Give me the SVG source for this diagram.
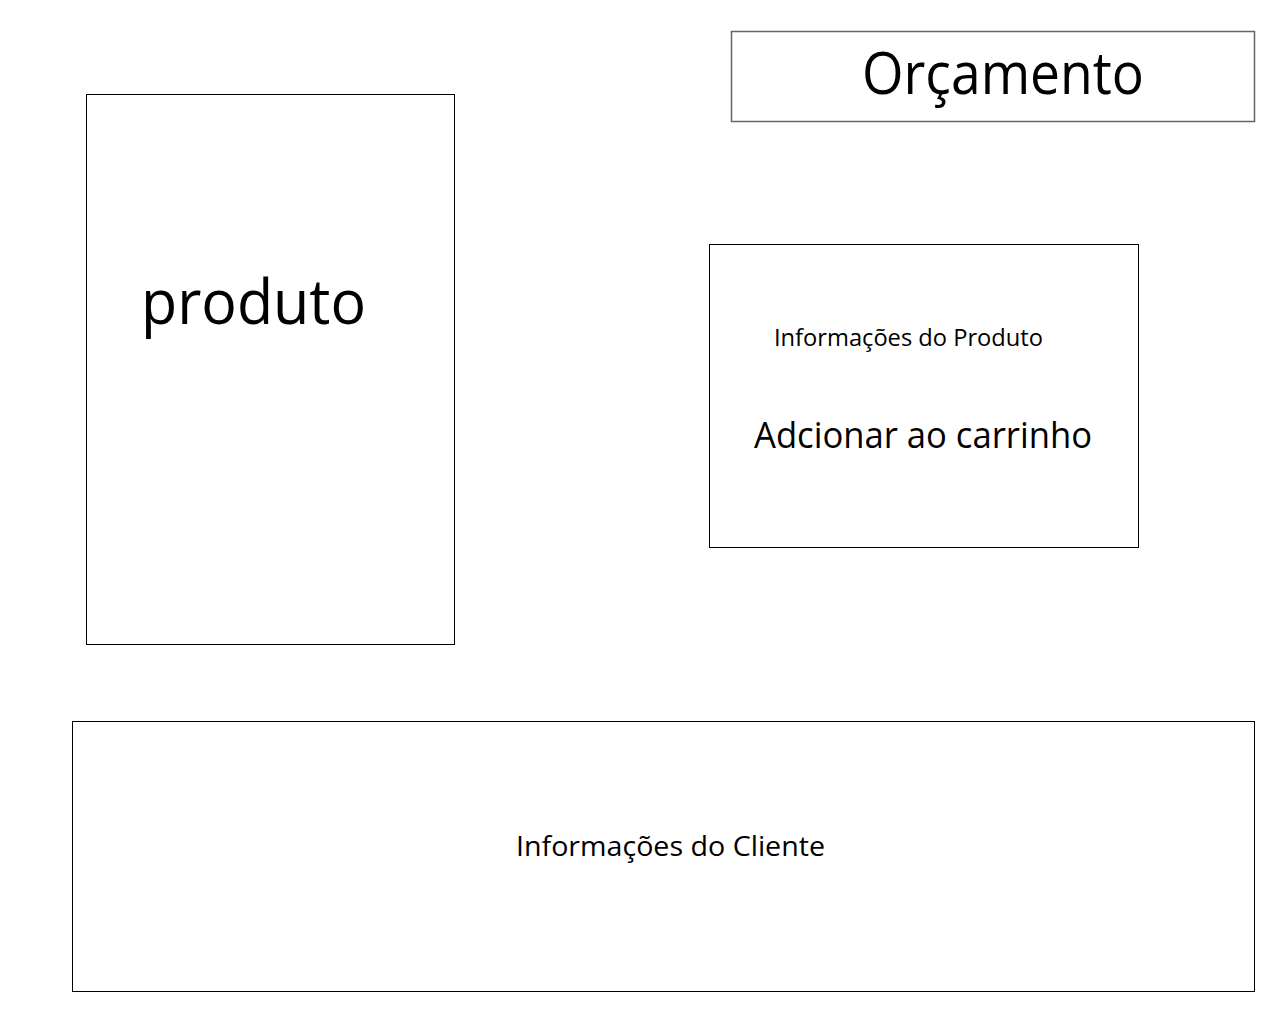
<svg xmlns="http://www.w3.org/2000/svg" width="1280" height="1024" viewBox="0 0 1280 1024">
<style>
rect{fill:#fff;stroke:#000;stroke-width:1}
text{font-family:"Open Sans","Noto Sans",sans-serif;fill:#000}
</style>
<rect x="0" y="0" width="1280" height="1024" style="stroke:none"/>
<g id="orcamento">
<rect x="731.5" y="31.5" width="523" height="90" style="stroke:#666;stroke-width:1.5"/>
<text x="862" y="94" font-size="58" textLength="282" lengthAdjust="spacingAndGlyphs">Orçamento</text>
</g>
<g id="produto">
<rect x="86.5" y="94.5" width="368" height="550"/>
<text x="141" y="324" font-size="62" textLength="225" lengthAdjust="spacingAndGlyphs">produto</text>
</g>
<g id="info-produto">
<rect x="709.5" y="244.5" width="429" height="303"/>
<text x="774" y="346" font-size="24" textLength="269" lengthAdjust="spacingAndGlyphs">Informações do Produto</text>
<text x="754" y="448" font-size="36" textLength="338" lengthAdjust="spacingAndGlyphs">Adcionar ao carrinho</text>
</g>
<g id="info-cliente">
<rect x="72.5" y="721.5" width="1182" height="270"/>
<text x="516" y="856" font-size="27" textLength="309" lengthAdjust="spacingAndGlyphs">Informações do Cliente</text>
</g>
<g id="connectors"/>
</svg>
